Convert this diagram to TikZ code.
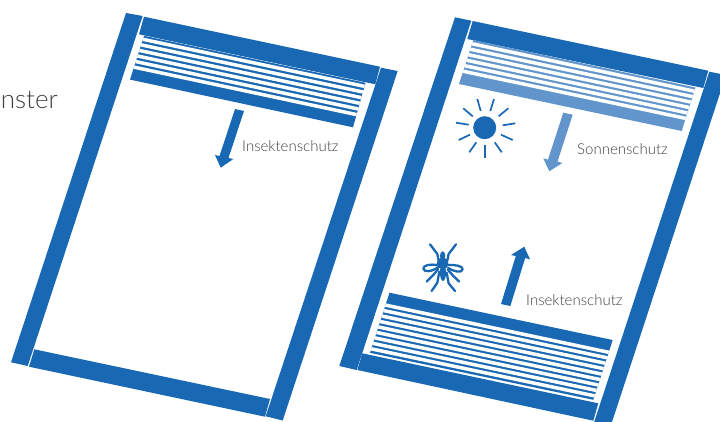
\documentclass[tikz,border=0pt]{standalone}
\usepackage{fontspec}
\setmainfont{Lato Light}
\usetikzlibrary{calc}
\definecolor{winblue}{HTML}{1868B4}
\definecolor{sunblue}{HTML}{6195CB}
\definecolor{labelgray}{HTML}{404040}
\tikzset{
  part/.style={fill=winblue,draw=none},
  lightpart/.style={fill=sunblue,draw=none},
  ray/.style={draw=winblue,line width=1.7pt},
  bug/.style={draw=winblue,line width=2.3pt,line cap=round,line join=round,fill=none},
  lab/.style={text=labelgray,font=\fontsize{15}{17}\selectfont,inner sep=0pt},
}
% stripes: TL, TR, BL, BR, half thickness, list of positions
\newcommand{\slats}[6]{%
  \foreach \t in {#6}{%
    \pgfmathsetmacro{\ta}{\t-#5}\pgfmathsetmacro{\tb}{\t+#5}%
    \fill[white] ($(#1)!\ta!(#3)$) -- ($(#2)!\ta!(#4)$) -- ($(#2)!\tb!(#4)$) -- ($(#1)!\tb!(#3)$) -- cycle;
  }%
}
\begin{document}
\begin{tikzpicture}[x=1pt,y=-1pt]
\useasboundingbox (0,0) rectangle (720,421);
\clip (0,0) rectangle (720,421);
% left window frame
\fill[part] (126,13) -- (142.7,16) -- (27.7,366) -- (11,362.3) -- cycle;
\fill[part] (144,16.7) -- (380,66.7) -- (375.3,84.3) -- (139,34.3) -- cycle;
\fill[part] (381,67.7) -- (397.7,71) -- (282.7,420.5) -- (265.7,416.3) -- cycle;
\fill[part] (34.3,349.3) -- (270,399) -- (265,416.7) -- (29,366.7) -- cycle;
% left blind
\coordinate (a1) at (144,35.8);
\coordinate (a2) at (365.5,82.8);
\coordinate (a3) at (130,79.6);
\coordinate (a4) at (353,127.3);
\fill[part] (a1) -- (a2) -- (a4) -- (a3) -- cycle;
\slats{a1}{a2}{a3}{a4}{0.038}{0.08,0.207,0.334,0.461,0.588,0.715}
% left arrow
\fill[part] (235,109) -- (244,111) -- (228.5,158) -- (233.3,159) -- (220.7,167.7) -- (215,155) -- (219.5,156) -- cycle;
\node[lab,anchor=base west] (lab1) at (242,151.5) {Insektenschutz};
\node[lab,anchor=base east,font=\fontsize{26}{28}\selectfont] (lab0) at (58,108) {nster};
% right window frame
\fill[part] (455,17.3) -- (471.3,20.7) -- (356.7,370) -- (339.3,366) -- cycle;
\fill[part] (472.7,21) -- (708.3,70.7) -- (703.3,88) -- (467.3,39) -- cycle;
\fill[part] (709.3,71.7) -- (726,75) -- (611,425) -- (593.5,424) -- cycle;
\fill[part] (362.3,353.3) -- (598.3,403.3) -- (593.3,420.7) -- (357.3,370) -- cycle;
% right upper blind
\coordinate (b1) at (473.3,40);
\coordinate (b2) at (695.5,87.5);
\coordinate (b3) at (459,84);
\coordinate (b4) at (681.7,131);
\fill[lightpart] (b1) -- (b2) -- (b4) -- (b3) -- cycle;
\slats{b1}{b2}{b3}{b4}{0.038}{0.085,0.21,0.335,0.46,0.585,0.71}
% right lower blind
\coordinate (c1) at (389.5,292.7);
\coordinate (c2) at (612.7,340);
\coordinate (c3) at (370,352.8);
\coordinate (c4) at (593.3,399.8);
\fill[part] (c1) -- (c2) -- (c4) -- (c3) -- cycle;
\slats{c1}{c2}{c3}{c4}{0.028}{0.206,0.297,0.388,0.479,0.570,0.661,0.752,0.843,0.934}
% light arrow
\fill[lightpart] (563.3,112.7) -- (572.7,114.7) -- (557.5,161.6) -- (562.3,163) -- (549.3,171.3) -- (543.3,158.3) -- (548,159.6) -- cycle;
\node[lab,anchor=base west] (lab2) at (577,154) {Sonnenschutz};
% up arrow
\fill[part] (501,304) -- (510.3,306) -- (525.2,258) -- (530,259.3) -- (524.3,246.7) -- (511,255) -- (515.8,256) -- cycle;
\node[lab,anchor=base west] (lab3) at (526,305) {Insektenschutz};
% sun
\fill[winblue] (484.7,127.7) circle (11.5);
\draw[ray] (477.3,99) -- (480.7,111);
\draw[ray] (494,99) -- (490.3,111);
\draw[ray] (463.3,108.3) -- (472.7,116.3);
\draw[ray] (508.3,108.3) -- (498.7,116.3);
\draw[ray] (456,122.7) -- (468.7,124.7);
\draw[ray] (515.3,123.3) -- (502.7,125.3);
\draw[ray] (458.7,140) -- (470,134.7);
\draw[ray] (512.7,140) -- (501,134.7);
\draw[ray] (469.3,152.3) -- (476.3,142.3);
\draw[ray] (501.7,152.3) -- (494.7,142.3);
\draw[ray] (485.3,157.7) -- (485.3,145);
% mosquito
\begin{scope}[shift={(330,230)},x=0.3333pt,y=-0.3333pt]
\draw[bug] (300,43) -- (322,72) -- (326,92);
\draw[bug] (378,43) -- (356,72) -- (352,92);
\fill[winblue] (338,78) ellipse (8 and 14);
\fill[winblue] (338,100) ellipse (17 and 18);
\fill[winblue] (339,128) ellipse (9 and 25);
\draw[bug] (322,105) .. controls (300,102) and (280,105) .. (280,116) .. controls (282,128) and (305,125) .. (324,112);
\draw[bug] (355,105) .. controls (378,104) and (398,108) .. (398,118) .. controls (396,130) and (372,125) .. (354,114);
\draw[bug] (324,118) -- (310,135) -- (290,155);
\draw[bug] (354,120) -- (370,138) -- (388,155);
\draw[bug] (328,125) -- (322,158) -- (305,183);
\draw[bug] (350,128) -- (356,160) -- (375,183);
\end{scope}
\end{tikzpicture}
\end{document}
